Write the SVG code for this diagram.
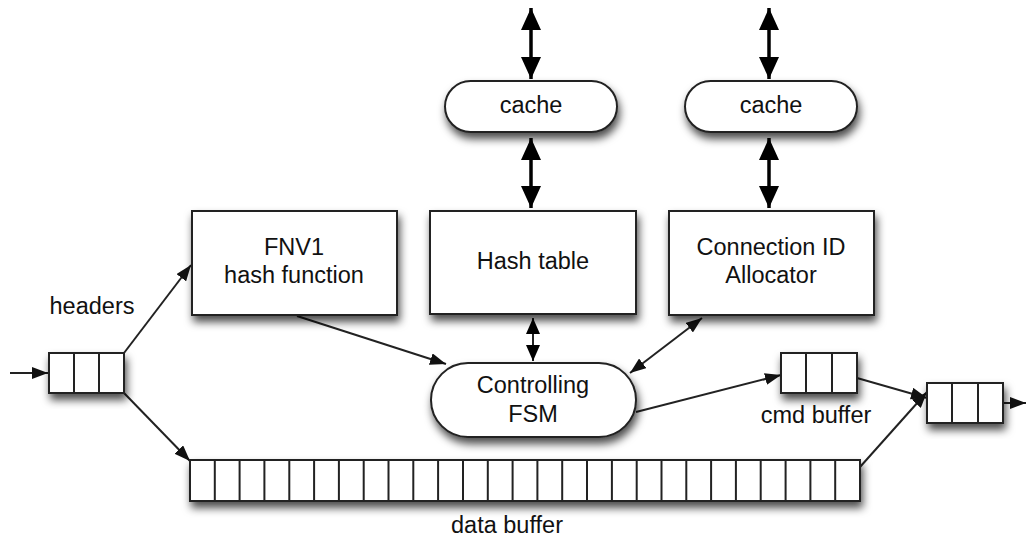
<svg xmlns="http://www.w3.org/2000/svg" width="1026" height="537" viewBox="0 0 1026 537">
<style>
.box{fill:#fff;stroke:#222;stroke-width:2}
.cell{fill:none;stroke:#222;stroke-width:2}
.t{font-family:"Liberation Sans",Arial,sans-serif;font-size:23.5px;fill:#111;text-anchor:middle}
.ln{stroke:#222;stroke-width:2;fill:none}
.big{stroke:#000;stroke-width:3.5;fill:none}
</style>
<defs>
<filter id="sh" x="-20%" y="-30%" width="140%" height="170%">
<feDropShadow dx="2" dy="6" stdDeviation="4.5" flood-color="#000" flood-opacity="0.7"/>
</filter>
<marker id="a" markerUnits="userSpaceOnUse" markerWidth="16" markerHeight="12" refX="16" refY="6" orient="auto-start-reverse">
<path d="M0,0 L16,6 L0,12 z" fill="#111"/>
</marker>
<marker id="m" markerUnits="userSpaceOnUse" markerWidth="16" markerHeight="14" refX="16" refY="7" orient="auto-start-reverse">
<path d="M0,0 L16,7 L0,14 z" fill="#000"/>
</marker>
<marker id="b" markerUnits="userSpaceOnUse" markerWidth="22" markerHeight="20" refX="22" refY="10" orient="auto-start-reverse">
<path d="M0,0 L22,10 L0,20 z" fill="#000"/>
</marker>
</defs>

<g id="connectors">
<line class="ln" x1="10" y1="373" x2="48" y2="373" marker-end="url(#a)"/>
<line class="ln" x1="124" y1="353" x2="191" y2="265" marker-end="url(#a)"/>
<line class="ln" x1="124" y1="393" x2="190" y2="461" marker-end="url(#a)"/>
<line class="ln" x1="297" y1="316" x2="446" y2="364" marker-end="url(#a)"/>
<line class="ln" x1="702" y1="318" x2="630" y2="373" marker-start="url(#a)" marker-end="url(#a)"/>
<line class="ln" x1="533" y1="318" x2="533" y2="361" marker-start="url(#m)" marker-end="url(#m)"/>
<line class="ln" x1="636" y1="412" x2="781" y2="375" marker-end="url(#a)"/>
<line class="ln" x1="857" y1="378" x2="927" y2="398" marker-end="url(#a)"/>
<line class="ln" x1="860" y1="467" x2="927" y2="392" marker-end="url(#a)"/>
<line class="ln" x1="1003" y1="403" x2="1026" y2="403" marker-end="url(#a)"/>
<line class="big" x1="531" y1="8" x2="531" y2="79" marker-start="url(#b)" marker-end="url(#b)"/>
<line class="big" x1="531" y1="138" x2="531" y2="208" marker-start="url(#b)" marker-end="url(#b)"/>
<line class="big" x1="769" y1="8" x2="769" y2="79" marker-start="url(#b)" marker-end="url(#b)"/>
<line class="big" x1="769" y1="138" x2="769" y2="208" marker-start="url(#b)" marker-end="url(#b)"/>
</g>

<g id="input-queue">
<rect class="box" x="49" y="353" width="75" height="40" filter="url(#sh)"/>
<path class="cell" d="M74,353 V393 M99,353 V393"/>
</g>

<text class="t" x="92" y="314">headers</text>

<g id="fnv1">
<rect class="box" x="192" y="211" width="205" height="104" filter="url(#sh)"/>
<text class="t" x="294" y="255">FNV1</text>
<text class="t" x="294" y="283">hash function</text>
</g>

<g id="hash-table">
<rect class="box" x="430" y="211" width="206" height="103" filter="url(#sh)"/>
<text class="t" x="533" y="269">Hash table</text>
</g>

<g id="conn-id">
<rect class="box" x="669" y="211" width="205" height="104" filter="url(#sh)"/>
<text class="t" x="771" y="255">Connection ID</text>
<text class="t" x="771" y="283">Allocator</text>
</g>

<g id="cache1">
<rect class="box" x="445" y="81" width="172" height="51" rx="25.5" filter="url(#sh)"/>
<text class="t" x="531" y="113">cache</text>
</g>

<g id="cache2">
<rect class="box" x="685" y="81" width="172" height="51" rx="25.5" filter="url(#sh)"/>
<text class="t" x="771" y="113">cache</text>
</g>

<g id="fsm">
<rect class="box" x="431" y="363" width="205" height="74" rx="37" filter="url(#sh)"/>
<text class="t" x="533" y="393">Controlling</text>
<text class="t" x="533" y="422">FSM</text>
</g>

<g id="cmd-buffer">
<rect class="box" x="781" y="353" width="76" height="40" filter="url(#sh)"/>
<path class="cell" d="M806,353 V393 M832,353 V393"/>
<text class="t" x="816" y="423">cmd buffer</text>
</g>

<g id="output-queue">
<rect class="box" x="927" y="383" width="76" height="40" filter="url(#sh)"/>
<path class="cell" d="M952,383 V423 M978,383 V423"/>
</g>

<g id="data-buffer">
<rect class="box" x="190" y="460" width="670" height="41" filter="url(#sh)"/>
<path class="cell" d="M214.8,460V501 M239.6,460V501 M264.4,460V501 M289.3,460V501 M314.1,460V501 M338.9,460V501 M363.7,460V501 M388.5,460V501 M413.3,460V501 M438.1,460V501 M463,460V501 M487.8,460V501 M512.6,460V501 M537.4,460V501 M562.2,460V501 M587,460V501 M611.9,460V501 M636.7,460V501 M661.5,460V501 M686.3,460V501 M711.1,460V501 M735.9,460V501 M760.7,460V501 M785.6,460V501 M810.4,460V501 M835.2,460V501"/>
<text class="t" x="507" y="533">data buffer</text>
</g>
</svg>
